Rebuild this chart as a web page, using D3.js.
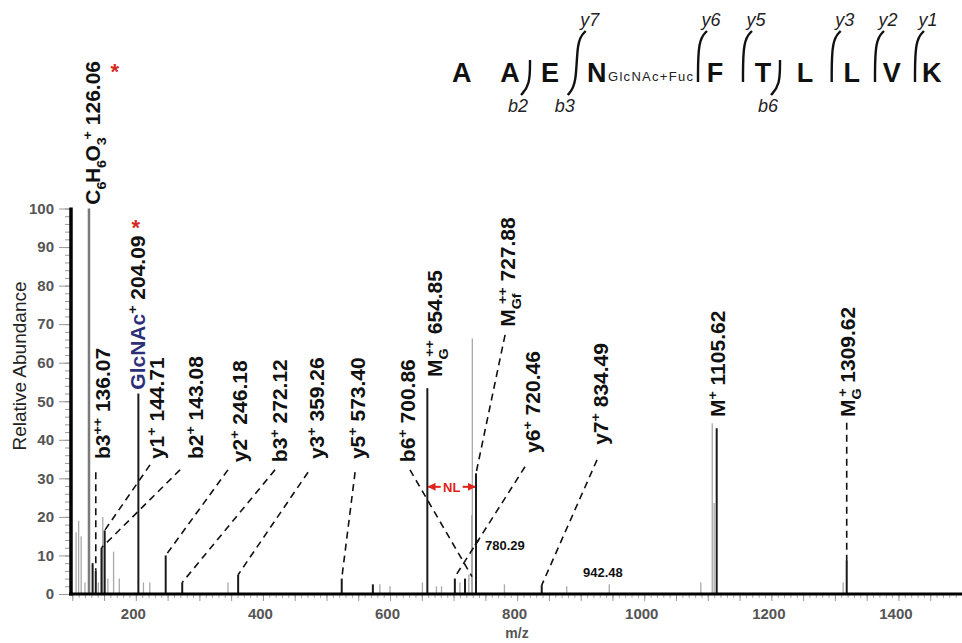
<!DOCTYPE html>
<html>
<head>
<meta charset="utf-8">
<script src="https://cdn.jsdelivr.net/npm/d3@7"></script>
<style>
body { margin: 0; background: #fff; }
svg { display: block; font-family: "Liberation Sans", Arial, sans-serif; }
</style>
</head>
<body>
<svg width="962" height="643"></svg>
<script>
var svg = d3.select("svg");

// peaks: [m/z, relative abundance]
let basePeak = [[126.3, 100]];
let greyPeaks = [[106,16],[110,19],[114,15],[120,3],[141,3],[148,20],[156,4],[165,11],[174,4],
	[212,3],[222,3],[345,3],[584,2.5],[600,2],[651,3],[673,2],[681,2],[710,3],[724,5],
	[729.5,66.3],[728.5,20.5],[780,2.5],[878,2],[945,2.5],[1089,3],[1107,44.3],[1110,23.6],[1313,3]];
let darkPeaks = [[132,8],[137,6],[146,12],[151,16.5],[204,52],[247,10],[273,3],[361,5],[524,4],
	[573,2.5],[658.7,53.4],[702,4],[718,4],[735.3,31.3],[838.7,2.3],[1114,43],[1318.6,8.8]];

// ion labels: text parts and where the bottom of the rotated text sits (m/z, abundance)
let ionLabels = [
	{mz: 132.6, ab: 101, parts: [["C"],["6","sub"],["H","n",-1.5],["6","sub"],["O","n",-1.5],["3","sub"],["+","sup",-2],[" 126.06"]]},
	{mz: 203.4, ab: 53, parts: [["GlcNAc","navy"],["+","sup"],[" 204.09"]]},
	{mz: 148.4, ab: 35, parts: [["b3"],["++","sup"],[" 136.07"]]},
	{mz: 233.3, ab: 35, parts: [["y1"],["+","sup"],[" 144.71"]]},
	{mz: 294.7, ab: 35, parts: [["b2"],["+","sup"],[" 143.08"]]},
	{mz: 363.9, ab: 34.2, parts: [["y2"],["+","sup"],[" 246.18"]]},
	{mz: 426.9, ab: 34.2, parts: [["b3"],["+","sup"],[" 272.12"]]},
	{mz: 485.1, ab: 35, parts: [["y3"],["+","sup"],[" 359.26"]]},
	{mz: 549.6, ab: 35, parts: [["y5"],["+","sup"],[" 573.40"]]},
	{mz: 628.3, ab: 34.2, parts: [["b6"],["+","sup"],[" 700.86"]]},
	{mz: 670.8, ab: 56.3, parts: [["M"],["G","sub"],["++","sup",-8],[" 654.85"]]},
	{mz: 785.6, ab: 69.3, parts: [["M"],["Gf","sub"],["++","sup",-10],[" 727.88"]]},
	{mz: 825, ab: 36.6, parts: [["y6"],["+","sup"],[" 720.46"]]},
	{mz: 932, ab: 38.7, parts: [["y7"],["+","sup"],[" 834.49"]]},
	{mz: 1116, ab: 45.9, parts: [["M"],["+","sup"],[" 1105.62"]]},
	{mz: 1320.6, ab: 45.9, parts: [["M"],["G","sub"],["+","sup",-8],[" 1309.62"]]}
];

// dashed leaders: [m/z from, abundance from, m/z to, abundance to]
let leaders = [
	[137,31.6,137,6],
	[222.3,33.5,151,16.5],
	[269.5,32.2,146,12],
	[345,32.2,247,10],
	[419,32.2,273,3],
	[471,31.6,361,5],
	[545,31.6,524,4],
	[631.4,32.2,729,4.5],
	[812.4,33,702,4.4],
	[781,67.2,735.3,31.3],
	[925.7,34.8,838.7,2.3],
	[1318.6,44.4,1318.6,8.8],
	[733.7,12.7,741.6,14.5]
];

// small plain m/z notes: [text, m/z, abundance]
let notes = [["780.29", 749.5, 12.7], ["942.48", 903.6, 5.7]];
let stars = [[167, 136], [200, 95.5]];
let nlSpan = [658.7, 735.3, 27.8];

let yTicks = d3.range(0, 101, 10);
let xTickLabels = [200, 400, 600, 800, 1000, 1200, 1400];

// peptide sequence header
let residues = ["A","A","E","N","F","T","L","L","V","K"];
let residueX = [461.7, 510, 550, 596.7, 715, 763, 805, 851.7, 891.7, 931.7];
let cleavages = [
	{x: 530, b: "b2"}, {x: 576.7, b: "b3", y: "y7"}, {x: 698, y: "y6"}, {x: 743, y: "y5"},
	{x: 780, b: "b6"}, {x: 831.7, y: "y3"}, {x: 875, y: "y2"}, {x: 915, y: "y1"}
];

var x = d3.scaleLinear().domain([98, 1500]).range([71, 962]);
var y = d3.scaleLinear().domain([0, 100]).range([594, 208.5]);

// y axis ticks
svg.append("g")
	.attr("transform", "translate(71,0)")
	.call(d3.axisLeft(y).tickValues(d3.range(0, 101, 2)).tickSize(6).tickFormat(""))
	.call(g => g.select(".domain").remove())
	.call(g => g.selectAll("line").attr("stroke", "#999"));
svg.append("g")
	.attr("transform", "translate(71,0)")
	.call(d3.axisLeft(y).tickValues(yTicks).tickSize(12).tickPadding(5).tickFormat(d3.format("d")))
	.call(g => g.select(".domain").remove())
	.call(g => g.selectAll("line").attr("stroke", "#999"))
	.call(g => g.selectAll("text").attr("font-size", 15).attr("font-weight", "bold")
		.attr("fill", "#555").attr("font-family", "Liberation Sans, Arial, sans-serif"));

// x axis ticks
svg.append("g")
	.attr("transform", "translate(0,594)")
	.call(d3.axisBottom(x).tickValues(d3.range(100, 1501, 10)).tickSize(4).tickFormat(""))
	.call(g => g.select(".domain").remove())
	.call(g => g.selectAll("line").attr("stroke", "#aaa"));
svg.append("g")
	.attr("transform", "translate(0,594)")
	.call(d3.axisBottom(x).tickValues(d3.range(100, 1501, 50)).tickSize(7).tickFormat(""))
	.call(g => g.select(".domain").remove())
	.call(g => g.selectAll("line").attr("stroke", "#999"));
svg.append("g")
	.attr("transform", "translate(0,594)")
	.call(d3.axisBottom(x).tickValues(xTickLabels).tickSize(0).tickPadding(14).tickFormat(d3.format("d")))
	.call(g => g.select(".domain").remove())
	.call(g => g.selectAll("text").attr("dx", -3).attr("font-size", 15).attr("font-weight", "bold")
		.attr("fill", "#555").attr("font-family", "Liberation Sans, Arial, sans-serif"));

// peaks
function drawPeaks(data, colour, w) {
	svg.append("g").selectAll("line")
		.data(data)
		.enter()
		.append("line")
		.attr("x1", d => x(d[0])).attr("x2", d => x(d[0]))
		.attr("y1", y(0)).attr("y2", d => y(d[1]))
		.attr("stroke", colour)
		.attr("stroke-width", w);
}
drawPeaks(greyPeaks, "#a9a9a9", 1.3);
drawPeaks(basePeak, "#7a7a7a", 2.5);
drawPeaks(darkPeaks, "#1a1a1a", 2);

// axis lines
svg.append("line").attr("x1", 71).attr("x2", 71).attr("y1", y(100) - 1).attr("y2", y(0) + 1.5)
	.attr("stroke", "#000").attr("stroke-width", 3.5);
svg.append("line").attr("x1", 69).attr("x2", 962).attr("y1", y(0)).attr("y2", y(0))
	.attr("stroke", "#000").attr("stroke-width", 3);

// dashed leaders
svg.append("g").selectAll("line")
	.data(leaders)
	.enter()
	.append("line")
	.attr("x1", d => x(d[0])).attr("y1", d => y(d[1]))
	.attr("x2", d => x(d[2])).attr("y2", d => y(d[3]))
	.attr("stroke", "#111")
	.attr("stroke-width", 1.6)
	.attr("stroke-dasharray", "7,5");

// rotated ion labels, stretched a little along the text like the original
let fs = 20;
function addParts(text, parts) {
	let shift = 0;
	parts.forEach(function(p) {
		let kind = p[1] || "n";
		let target = kind == "sup" ? -0.42 * fs : kind == "sub" ? 0.3 * fs : 0;
		let t = text.append("tspan").text(p[0]).attr("dy", target - shift);
		if (p[2]) t.attr("dx", p[2]);
		shift = target;
		if (kind == "sup" || kind == "sub") t.attr("font-size", fs * 0.68);
		if (kind == "navy") t.attr("fill", "#2d2f78");
	});
}
ionLabels.forEach(function(l) {
	let t = svg.append("text")
		.attr("transform", "translate(" + x(l.mz) + "," + y(l.ab) + ") rotate(-90) scale(1.05,1)")
		.attr("x", 0)
		.attr("y", 0.36 * fs)
		.attr("font-size", fs)
		.attr("font-weight", "bold")
		.attr("fill", "#111");
	addParts(t, l.parts);
});

// red asterisks
svg.append("g").selectAll("text")
	.data(stars)
	.enter()
	.append("text")
	.attr("x", d => x(d[0])).attr("y", d => y(d[1]) + 9)
	.attr("text-anchor", "middle")
	.attr("font-size", 22)
	.attr("font-weight", "bold")
	.attr("fill", "#d42a22")
	.text("*");

// plain notes
svg.append("g").selectAll("text")
	.data(notes)
	.enter()
	.append("text")
	.attr("x", d => x(d[1])).attr("y", d => y(d[2]) + 5)
	.attr("font-size", 13)
	.attr("font-weight", "bold")
	.attr("fill", "#111")
	.text(d => d[0]);

// neutral loss arrow
svg.append("defs").append("marker")
	.attr("id", "ah")
	.attr("viewBox", "0 0 10 10")
	.attr("refX", 9).attr("refY", 5)
	.attr("markerWidth", 4).attr("markerHeight", 4)
	.attr("orient", "auto-start-reverse")
	.append("path").attr("d", "M0,0L10,5L0,10z").attr("fill", "#e0241c");
let nlMid = (x(nlSpan[0]) + x(nlSpan[1])) / 2;
svg.append("line")
	.attr("x1", x(nlSpan[0]) + 1).attr("x2", nlMid - 11)
	.attr("y1", y(nlSpan[2])).attr("y2", y(nlSpan[2]))
	.attr("stroke", "#e0241c").attr("stroke-width", 2)
	.attr("marker-start", "url(#ah)");
svg.append("line")
	.attr("x1", nlMid + 11).attr("x2", x(nlSpan[1]) - 1)
	.attr("y1", y(nlSpan[2])).attr("y2", y(nlSpan[2]))
	.attr("stroke", "#e0241c").attr("stroke-width", 2)
	.attr("marker-end", "url(#ah)");
svg.append("text")
	.attr("x", nlMid).attr("y", y(nlSpan[2]) + 5)
	.attr("text-anchor", "middle")
	.attr("font-size", 13)
	.attr("font-weight", "bold")
	.attr("fill", "#e0241c")
	.text("NL");

// axis titles
svg.append("text")
	.attr("transform", "translate(26,366) rotate(-90)")
	.attr("text-anchor", "middle")
	.attr("font-size", 19)
	.attr("fill", "#222")
	.text("Relative Abundance");
svg.append("text")
	.attr("x", 517).attr("y", 638)
	.attr("text-anchor", "middle")
	.attr("font-size", 14)
	.attr("font-weight", "bold")
	.attr("fill", "#555")
	.text("m/z");

// peptide sequence
let seq = svg.append("g");
seq.selectAll("text.res")
	.data(residues)
	.enter()
	.append("text")
	.attr("class", "res")
	.attr("x", (d, i) => residueX[i])
	.attr("y", 82)
	.attr("text-anchor", "middle")
	.attr("font-size", 27)
	.attr("font-weight", "bold")
	.attr("fill", "#111")
	.text(d => d);
seq.append("text")
	.attr("x", 608).attr("y", 81)
	.attr("font-size", 13)
	.attr("textLength", 85)
	.attr("fill", "#222")
	.text("GlcNAc+Fuc");

cleavages.forEach(function(c) {
	let top = c.y ? 40 : 60;
	let bottom = c.b ? 85 : 82;
	let pts = [];
	if (c.y) pts.push([c.x + 9, 31]);
	pts.push([c.x, top], [c.x, bottom]);
	if (c.b) pts.push([c.x - 9, 95]);
	seq.append("path")
		.attr("d", d3.line().curve(d3.curveBasis)(pts))
		.attr("fill", "none")
		.attr("stroke", "#111")
		.attr("stroke-width", 2.4);
	if (c.y) seq.append("text").attr("x", c.x + 13).attr("y", 26)
		.attr("text-anchor", "middle").attr("font-size", 18).attr("font-style", "italic")
		.attr("fill", "#222").text(c.y);
	if (c.b) seq.append("text").attr("x", c.x - 12).attr("y", 112)
		.attr("text-anchor", "middle").attr("font-size", 18).attr("font-style", "italic")
		.attr("fill", "#222").text(c.b);
});
</script>
</body>
</html>
